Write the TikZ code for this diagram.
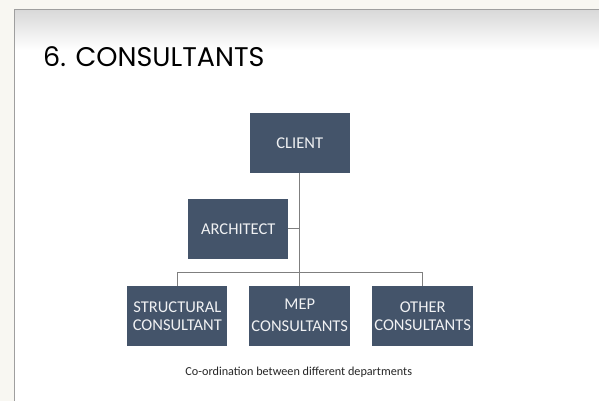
\documentclass[tikz,border=0pt]{standalone}
\usepackage{fontspec}
\setmainfont{Carlito}
\newfontfamily\titlefont{Poppins}
\usetikzlibrary{positioning}
\definecolor{slateblue}{HTML}{44546A}
\definecolor{pagecream}{HTML}{F8F7F2}
\definecolor{linegray}{HTML}{7F7F7F}

\begin{document}
\begin{tikzpicture}[x=1pt, y=-1pt,
    orgbox/.style={fill=slateblue, text=white!92!slateblue, minimum width=100pt, minimum height=60pt,
        inner sep=2pt, align=center, font=\fontsize{16.5}{18}\selectfont},
    link/.style={draw=linegray, line width=0.8pt}]
    % Slide background
    \fill[pagecream] (0,0) rectangle (599,401);
    \fill[white] (15,10) rectangle (599,401);
    \shade[top color=gray!30, bottom color=white] (15,10) rectangle (599,50);
    \draw[gray!75, line width=1pt] (15,401) -- (15,10) -- (599,10);
    \useasboundingbox (0,0) rectangle (599,401);

    % Title
    \node[anchor=base west, inner sep=0pt, font=\titlefont\fontsize{27}{27}\selectfont] (title) at (43,67) {6. CONSULTANTS};

    % Nodes
    \node[orgbox] (client) at (300,143) {CLIENT};
    \node[orgbox] (architect) at (238.5,229) {ARCHITECT};
    \node[orgbox] (structural) at (177.5,316) {STRUCTURAL\\CONSULTANT};
    \node[orgbox] (mep) at (300,316) {MEP\\[4pt]CONSULTANTS};
    \node[orgbox] (other) at (423,316) {OTHER\\CONSULTANTS};
    \coordinate (bar) at (300,273);

    % Connectors
    \draw[link] (client.south) -- (mep.north);
    \draw[link] (architect.east) -- (architect.east -| client.south);
    \draw[link] (structural.north) |- (bar) -| (other.north);

    % Caption
    \node[font=\fontsize{12.2}{14}\selectfont, text=black!85] (caption) at (299,373) {Co-ordination between different departments};
\end{tikzpicture}
\end{document}
